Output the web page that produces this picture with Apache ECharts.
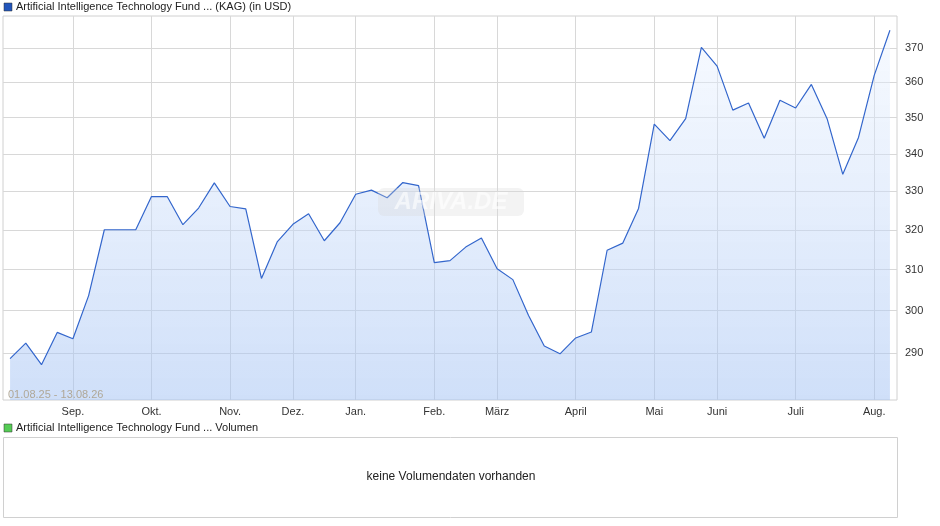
<!DOCTYPE html>
<html><head><meta charset="utf-8">
<script src="https://cdn.jsdelivr.net/npm/echarts@6/dist/echarts.min.js"></script>
<style>html,body{margin:0;padding:0;background:#fff}#c{width:940px;height:526px}</style>
</head><body><div id="c"></div>
<script>
const prices = [288.7,292.3,287.3,294.8,293.3,303.6,320,320,320,328.6,328.6,321.3,325.6,332.2,326,325.4,307.8,316.9,321.4,324.1,
317.2,321.8,329.2,330.3,328.3,332.3,331.5,311.7,312.2,315.6,317.9,310.2,307.5,298.8,291.6,289.8,293.5,294.9,314.8,316.6,
325.5,348.2,343.6,349.7,370.2,364.7,352.1,354.1,344.3,354.9,352.7,359.4,349.7,334.5,344.5,362,375.3];
const monthNames = ['Sep.','Okt.','Nov.','Dez.','Jan.','Feb.','März','April','Mai','Juni','Juli','Aug.'];
const monthIdx = [4,9,14,18,22,27,31,36,41,45,50,55];
const yTicks = [290,300,310,320,330,340,350,360,370];
const dateRange = '01.08.25 - 13.08.26';
const title1 = 'Artificial Intelligence Technology Fund ... (KAG) (in USD)';
const title2 = 'Artificial Intelligence Technology Fund ... Volumen';
const noVol = 'keine Volumendaten vorhanden';

const font = 'Liberation Sans, Arial, sans-serif';
const chart = echarts.init(document.getElementById('c'));
chart.setOption({
  animation:false,
  textStyle:{fontFamily:font},
  grid:{left:3,right:43,top:16,bottom:126,show:true,borderColor:'#d0d0d0',borderWidth:1,containLabel:false},
  xAxis:{type:'value',min:-0.45,max:prices.length-1+0.45,
    axisLine:{show:false},
    axisTick:{show:false,customValues:monthIdx},
    axisLabel:{customValues:monthIdx,formatter:v=>monthNames[monthIdx.indexOf(Math.round(v))]||'',color:'#333',fontSize:11,margin:6},
    splitLine:{show:true,lineStyle:{color:'#d8d8d8'}}},
  yAxis:{type:'log',position:'right',min:279.3,max:379.6,
    axisLine:{show:false},axisTick:{show:false,customValues:yTicks},
    axisLabel:{customValues:yTicks,color:'#333',fontSize:11,margin:8},
    splitLine:{show:true,lineStyle:{color:'#d8d8d8'}}},
  series:[{type:'line',data:prices.map((v,i)=>[i,v]),symbol:'none',z:3,
    lineStyle:{color:'#3366cc',width:1.2},
    areaStyle:{origin:'start',color:new echarts.graphic.LinearGradient(0,0,0,1,[{offset:0,color:'rgba(235,243,255,0.6)'},{offset:1,color:'rgba(160,192,243,0.72)'}])}}],
  graphic:[
    {type:'rect',shape:{x:4,y:3,width:8,height:8},style:{fill:'#2255bb',stroke:'#333',lineWidth:0.5}},
    {type:'text',x:16,y:1,style:{text:title1,fontSize:11,fill:'#222',fontFamily:font}},
    {type:'text',x:8,y:389,z:50,style:{text:dateRange,fontSize:11,fill:'#b0a898',fontFamily:font}},
    {type:'group',x:378,y:188,z:50,children:[
      {type:'rect',z:50,shape:{x:0,y:0,width:146,height:28,r:6},style:{fill:'rgba(215,215,215,0.3)'}},
      {type:'text',z:51,x:73,y:14,style:{text:'ARIVA.DE',align:'center',verticalAlign:'middle',fontSize:24,fontStyle:'italic',fontWeight:'bold',fill:'rgba(255,255,255,0.6)',fontFamily:font}}]},
    {type:'rect',shape:{x:4,y:424,width:8,height:8},style:{fill:'#55cc55',stroke:'#333',lineWidth:0.5}},
    {type:'text',x:16,y:422,style:{text:title2,fontSize:11,fill:'#222',fontFamily:font}},
    {type:'rect',shape:{x:3.5,y:437.5,width:894,height:80},style:{fill:'#fff',stroke:'#d0d0d0',lineWidth:1}},
    {type:'text',x:451,y:477,style:{text:noVol,align:'center',verticalAlign:'middle',fontSize:12,fill:'#222',fontFamily:font}}
  ]
});
</script></body></html>
